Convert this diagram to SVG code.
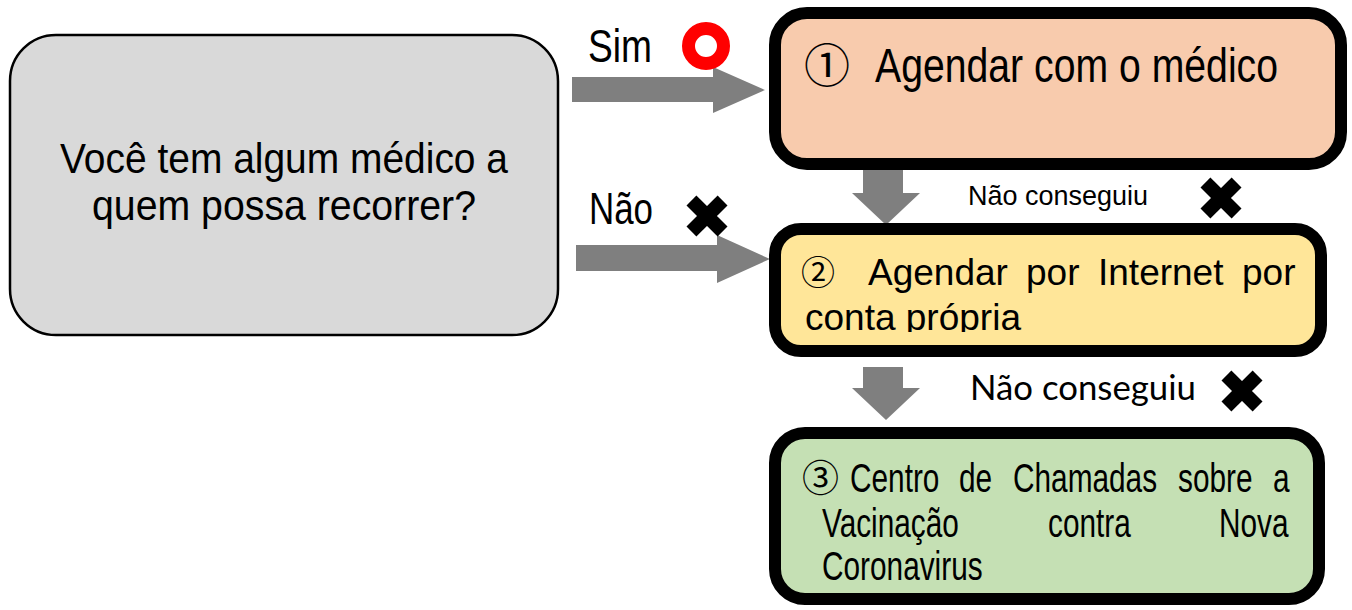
<svg xmlns="http://www.w3.org/2000/svg" width="1352" height="610" viewBox="0 0 1352 610">
<style>
.t{font-family:"Liberation Sans",Arial,sans-serif;fill:#000}
.cj{font-family:"Noto Sans CJK JP","Noto Sans CJK SC",sans-serif;fill:#000}
.arr{fill:#7f7f7f}
.box{stroke:#000;stroke-width:12}
</style>
<defs>
<g id="xmark"><g transform="rotate(45)"><rect x="-22" y="-7" width="44" height="14"/><rect x="-7" y="-22" width="14" height="44"/></g></g>
<clipPath id="c2"><rect x="780" y="235" width="540" height="97"/></clipPath>
</defs>
<rect width="1352" height="610" fill="#fff"/>
<g id="connectors">
<polygon class="arr" points="572,77 713,77 713,67 765,90 713,113 713,102 572,102"/>
<polygon class="arr" points="576,245 717,245 717,235 770,259 717,283 717,271 576,271"/>
<polygon class="arr" points="863,160 903,160 903,193 920,193 886,225 852,193 863,193"/>
<polygon class="arr" points="863,367 903,367 903,388 920,388 886,420 852,388 863,388"/>
<text class="t" transform="translate(588,62) scale(1,1.24)" font-size="37" textLength="64" lengthAdjust="spacingAndGlyphs">Sim</text>
<circle cx="706" cy="46" r="17.5" fill="#fff" stroke="#f00" stroke-width="13"/>
<text class="t" transform="translate(589,224) scale(1,1.28)" font-size="34.5" textLength="64" lengthAdjust="spacingAndGlyphs">Não</text>
<use href="#xmark" x="707" y="216"/>
<text class="t" x="968" y="205" font-size="28" textLength="180" lengthAdjust="spacingAndGlyphs">Não conseguiu</text>
<use href="#xmark" x="1221" y="198"/>
<text x="970" y="400" font-size="34" font-family="Lato,'Open Sans',sans-serif" textLength="226" lengthAdjust="spacingAndGlyphs">Não conseguiu</text>
<use href="#xmark" x="1242" y="391"/>
</g>
<g id="question">
<rect x="10" y="35" width="548" height="300" rx="46" fill="#d9d9d9" stroke="#000" stroke-width="2.5"/>
<text class="t" transform="translate(60,173) scale(1,1.1)" font-size="38.8" textLength="448" lengthAdjust="spacingAndGlyphs">Você tem algum médico a</text>
<text class="t" transform="translate(92,220) scale(1,1.1)" font-size="38.8" textLength="384" lengthAdjust="spacingAndGlyphs">quem possa recorrer?</text>
</g>
<g id="step1">
<rect class="box" x="775" y="13" width="566" height="151" rx="32" fill="#f8cbad"/>
<text class="cj" x="804" y="82" font-size="46">①</text>
<text class="t" transform="translate(875,82) scale(1,1.22)" font-size="39.2" textLength="403" lengthAdjust="spacingAndGlyphs">Agendar com o médico</text>
</g>
<g id="step2">
<rect class="box" x="775" y="229" width="546" height="122" rx="26" fill="#ffe699"/>
<g clip-path="url(#c2)">
<text class="cj" x="801" y="285" font-size="34">②</text>
<text class="t" y="285" font-size="37"><tspan x="868">Agendar</tspan><tspan x="1026">por</tspan><tspan x="1098">Internet</tspan><tspan x="1242">por</tspan></text>
<text class="t" x="805" y="330" font-size="37">conta própria</text>
</g>
</g>
<g id="step3">
<rect class="box" x="775" y="433" width="544" height="166" rx="30" fill="#c5e0b4"/>
<text class="cj" x="802" y="492" font-size="37">③</text>
<g class="t" font-size="29.8">
<text transform="translate(0,492) scale(1,1.34)"><tspan x="850">Centro</tspan><tspan x="959">de</tspan><tspan x="1013">Chamadas</tspan><tspan x="1178">sobre</tspan><tspan x="1273">a</tspan></text>
<text transform="translate(0,537) scale(1,1.34)"><tspan x="822">Vacinação</tspan><tspan x="1048">contra</tspan><tspan x="1219">Nova</tspan></text>
<text transform="translate(822,580) scale(1,1.34)">Coronavirus</text>
</g>
</g>
</svg>
